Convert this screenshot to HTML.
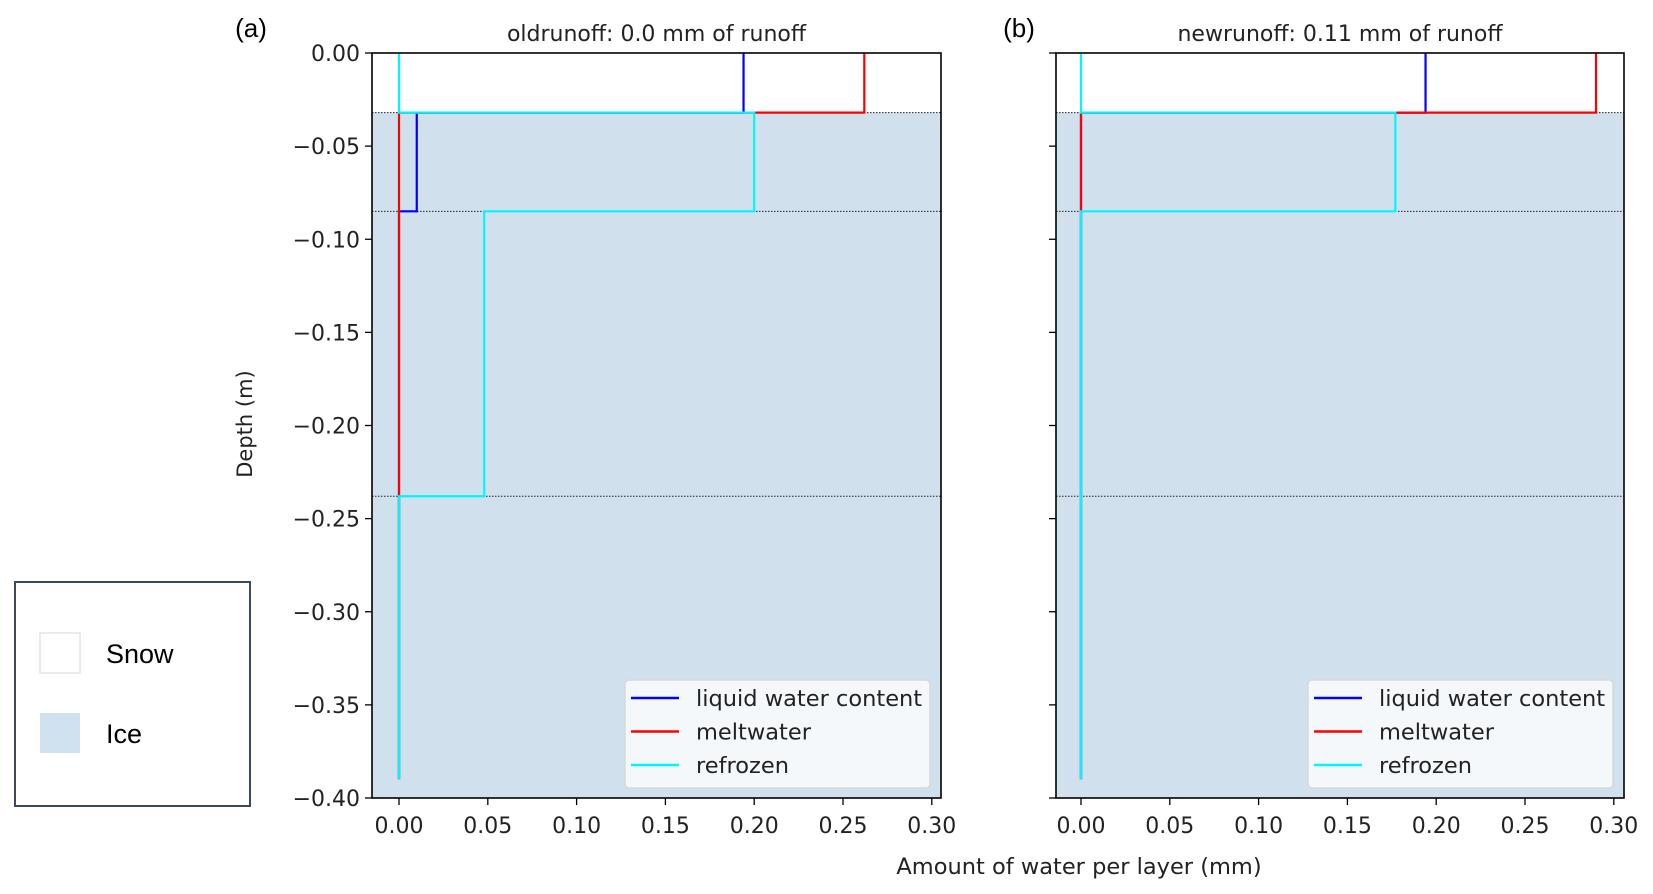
<!DOCTYPE html>
<html><head><meta charset="utf-8"><style>
html,body{margin:0;padding:0;background:#fff;}
svg{display:block;font-family:"DejaVu Sans","Liberation Sans",sans-serif;}
</style></head><body>
<svg id="chart" width="1653" height="894" viewBox="0 0 1653 894" xmlns="http://www.w3.org/2000/svg">
<g>
<rect x="15" y="582" width="235" height="224" fill="#fff" stroke="#3b4a5c" stroke-width="2"/>
<rect x="40" y="633" width="40" height="40" fill="#fff" stroke="#e4e4e4" stroke-width="1.5"/>
<text x="106" y="663" font-family="Liberation Sans, sans-serif" font-size="27" fill="#000">Snow</text>
<rect x="40" y="713" width="40" height="40" fill="#d0e1f0"/>
<text x="106" y="743" font-family="Liberation Sans, sans-serif" font-size="27" fill="#000">Ice</text>
</g>
<text x="251" y="37" font-family="Liberation Sans, sans-serif" font-size="26" text-anchor="middle">(a)</text>
<text x="1019" y="37" font-family="Liberation Sans, sans-serif" font-size="26" text-anchor="middle">(b)</text>
<text transform="translate(252,424) rotate(-90)" font-size="21" text-anchor="middle" fill="#222">Depth (m)</text>
<text x="1079" y="874" font-size="22.5" text-anchor="middle" fill="#222">Amount of water per layer (mm)</text>
</svg>
<script>
// Layer boundary depths (m)
const layerBounds = [0, -0.032, -0.085, -0.238, -0.39];
const iceTop = -0.032;
const xTicks = [0, 0.05, 0.10, 0.15, 0.20, 0.25, 0.30];
const xTickLabels = ["0.00","0.05","0.10","0.15","0.20","0.25","0.30"];
const yTicks = [0, -0.05, -0.10, -0.15, -0.20, -0.25, -0.30, -0.35, -0.40];
const yTickLabels = ["0.00","\u22120.05","\u22120.10","\u22120.15","\u22120.20","\u22120.25","\u22120.30","\u22120.35","\u22120.40"];
const seriesNames = ["liquid water content","meltwater","refrozen"];
// Panel (a) oldrunoff
const aLwc = [0.194, 0.010, 0, 0];
const aMelt = [0.262, 0, 0, 0];
const aRefrozen = [0, 0.200, 0.048, 0];
// Panel (b) newrunoff
const bLwc = [0.194, 0, 0, 0];
const bMelt = [0.290, 0, 0, 0];
const bRefrozen = [0, 0.177, 0, 0];
const titles = ["oldrunoff: 0.0 mm of runoff", "newrunoff: 0.11 mm of runoff"];

const svg = document.getElementById('chart');
const NS = 'http://www.w3.org/2000/svg';
const colors = ['#0000ff', '#ff0000', '#00f5ff'];
function mk(tag, attrs, parent) {
  const e = document.createElementNS(NS, tag);
  for (const k in attrs) e.setAttribute(k, attrs[k]);
  (parent || svg).appendChild(e);
  return e;
}
function panel(left, right, top, bottom, x0, title, series, showYLabels, id) {
  const g = mk('g', {});
  
  
  const xs = v => x0 + v / 0.05 * 88.8;
  const ys = d => top + (-d) / 0.4 * (bottom - top);
  const bg = mk('rect', {x: left, y: ys(iceTop), width: right - left, height: bottom - ys(iceTop), fill: '#d0e1ed'}, g);
  
  
  for (let i = 1; i < layerBounds.length - 1; i++) {
    const l = mk('line', {x1: left, x2: right, y1: ys(layerBounds[i]), y2: ys(layerBounds[i]), stroke: '#222', 'stroke-width': 1, 'stroke-dasharray': '1.5,1.5'}, g);
    
    
  }
  series.forEach((vals, si) => {
    let d = '';
    for (let i = 0; i < vals.length; i++) {
      const x = xs(vals[i]);
      d += (i === 0 ? 'M' : 'L') + x + ',' + ys(layerBounds[i]) + ' L' + x + ',' + ys(layerBounds[i + 1]);
    }
    const p = mk('path', {d: d, fill: 'none', stroke: colors[si], 'stroke-width': 2.2}, g);
    
    
  });
  const fr = mk('rect', {x: left, y: top, width: right - left, height: bottom - top, fill: 'none', stroke: '#000', 'stroke-width': 1.6}, g);
  
  
  xTicks.forEach((v, i) => {
    const x = xs(v);
    mk('line', {x1: x, x2: x, y1: bottom, y2: bottom + 7, stroke: '#000', 'stroke-width': 1.3}, g);
    const t = mk('text', {x: x, y: bottom + 35, 'font-size': 22, 'text-anchor': 'middle', fill: '#222'}, g);
    t.textContent = xTickLabels[i];
    
    
  });
  yTicks.forEach((v, i) => {
    const y = ys(v);
    mk('line', {x1: left - 7, x2: left, y1: y, y2: y, stroke: '#000', 'stroke-width': 1.3}, g);
    if (showYLabels) {
      const t = mk('text', {x: left - 12, y: y + 8, 'font-size': 22, 'text-anchor': 'end', fill: '#222'}, g);
      t.textContent = yTickLabels[i];
      
      
    }
  });
  const tt = mk('text', {x: (left + right) / 2, y: top - 12, 'font-size': 22, 'text-anchor': 'middle', fill: '#222'}, g);
  tt.textContent = title;
  
  
  const lg = mk('g', {}, g);
  
  
  const lx = right - 316;
  mk('rect', {x: lx, y: 680, width: 305, height: 108, rx: 4, fill: '#f5f8fb', stroke: '#d8d8d8', 'stroke-width': 1.5}, lg);
  seriesNames.forEach((n, i) => {
    const y = 698 + i * 33.5;
    mk('line', {x1: lx + 6, x2: lx + 54, y1: y, y2: y, stroke: colors[i], 'stroke-width': 2.6}, lg);
    const t = mk('text', {x: lx + 71, y: y + 8, 'font-size': 22.5, fill: '#222'}, lg);
    t.textContent = n;
    
    
  });
}
panel(372, 941, 53, 798, 399, titles[0], [aLwc, aMelt, aRefrozen], true, 'a');
panel(1056, 1624, 53, 798, 1081, titles[1], [bLwc, bMelt, bRefrozen], false, 'b');
</script>
</body></html>
